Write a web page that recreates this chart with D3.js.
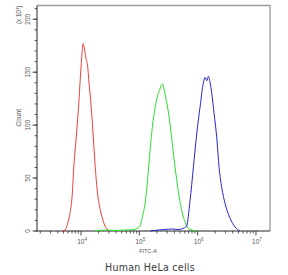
<!DOCTYPE html>
<html><head><meta charset="utf-8">
<script src="https://cdn.jsdelivr.net/npm/d3@7"></script>
<style>body{margin:0;background:#fff}svg{display:block}</style>
</head><body>
<svg id="c" width="288" height="275"></svg>
<script>
// FITC-A values and counts (x10^1)
const redFitc = [4720,5320,5990,6480,7010,7590,8210,8710,9240,9610,10000,10400,10820,11260,11710,12180,13030,13710,14660,15730,16700,17730,18800,20360,22030,23840,25800,27910,30200];
const redCount = [0,0.9,8.5,17,32,64,86,104,124,140,155,168,177,174,169,163,155,140,123,100,78,57,40,26,17,10,4.7,1.9,0];
const greenFitc = [17380,25820,38290,56870,78040,91380,102800,115700,125300,135600,152700,171900,186000,201300,222000,235400,249900,265300,281400,298600,336200,378600,426100,479700,540000,608100,684600,801400,977000];
const greenCount = [0,0.9,0.5,0.9,1.4,2.4,4.7,16,26,43,76,104,116,126,133,137,139,134,127,120,101,76,53,33,18,8.5,2.8,0.9,0];
const blueFitc = [152700,209400,275900,363800,461000,562000,645600,741400,844000,965300,1099000,1253000,1340000,1433000,1527000,1633000,1746000,1911000,2127000,2330000,2590000,2949000,3595000,4379000,5334000];
const blueCount = [0,0.9,1.4,1.9,1.4,2.4,4.7,29,60,92,117,140,145,142,146,140,130,111,88,60,41,26,12,3.8,0];
const yTicks = [0,50,100,150,200];
const xTicks = [1e4,1e5,1e6,1e7];
const xExps = ["4","5","6","7"];
const title = "Human HeLa cells";
const xTitle = "FITC-A";
const yTitle = "Count";
const yUnit = "(x 10";

const svg = d3.select("#c");
const L = 37, R = 270, T = 5.5, B = 231;
const x = d3.scaleLog().domain([1758, 17400000]).range([L, R]);
const y = d3.scaleLinear().domain([0, 213]).range([B, T]);
const FF = "Liberation Sans, Arial, sans-serif";

// frame top/right
svg.append("path").attr("d", `M${L},${T}H${R}V${B}`).attr("fill","none").attr("stroke","#9a9a9a").attr("stroke-width",1.3);

// minor x ticks
const minorX = [];
for (let e = 3; e <= 7; e++) for (let m = 2; m <= 9; m++) { const v = m * Math.pow(10, e); if (v > x.domain()[0] && v < x.domain()[1]) minorX.push(v); }
const gx = svg.append("g").attr("transform", `translate(0,${B})`);
gx.selectAll("line.mn").data(minorX).join("line").attr("x1", d => x(d)).attr("x2", d => x(d)).attr("y1", 0).attr("y2", 2.5).attr("stroke", "#333").attr("stroke-width", 0.8);
gx.selectAll("line.mj").data(xTicks).join("line").attr("x1", d => x(d)).attr("x2", d => x(d)).attr("y1", 0).attr("y2", 4.5).attr("stroke", "#333").attr("stroke-width", 0.9);
gx.append("line").attr("x1", L).attr("x2", R).attr("stroke", "#222").attr("stroke-width", 1);
const xl = gx.selectAll("text.xl").data(xTicks).join("text").attr("x", d => x(d) + 1).attr("y", 12.5).attr("text-anchor", "middle").attr("font-family", FF).attr("font-size", 6.5).attr("fill", "#555");
xl.append("tspan").text("10");
xl.append("tspan").attr("dy", -3).attr("font-size", 4.5).text((d, i) => xExps[i]);

// y ticks
const minorY = d3.range(0, 211, 10);
const gy = svg.append("g").attr("transform", `translate(${L},0)`);
gy.selectAll("line.mn").data(minorY).join("line").attr("x1", -2.5).attr("x2", 0).attr("y1", d => y(d)).attr("y2", d => y(d)).attr("stroke", "#333").attr("stroke-width", 0.8);
gy.selectAll("line.mj").data(yTicks).join("line").attr("x1", -4.5).attr("x2", 0).attr("y1", d => y(d)).attr("y2", d => y(d)).attr("stroke", "#333").attr("stroke-width", 0.9);
gy.append("line").attr("y1", T).attr("y2", B).attr("stroke", "#222").attr("stroke-width", 1);
gy.selectAll("text.yl").data(yTicks).join("text").attr("transform", d => `translate(-7.5,${y(d)}) rotate(-90)`).attr("text-anchor", "middle").attr("font-family", FF).attr("font-size", 6.5).attr("fill", "#555").text(d => d);

// axis titles
svg.append("text").attr("transform", `translate(21,${y(107)}) rotate(-90)`).attr("text-anchor", "middle").attr("font-family", FF).attr("font-size", 6.5).attr("fill", "#555").text(yTitle);
const yu = svg.append("text").attr("transform", `translate(21,24) rotate(-90)`).attr("text-anchor", "start").attr("font-family", FF).attr("font-size", 6.3).attr("fill", "#555");
yu.append("tspan").text(yUnit);
yu.append("tspan").attr("dy", -2.5).attr("font-size", 4.2).text("1");
yu.append("tspan").attr("dy", 2.5).text(")");
svg.append("text").attr("x", 148).attr("y", 253).attr("text-anchor", "middle").attr("font-family", FF).attr("font-size", 5.5).attr("fill", "#555").text(xTitle);
svg.append("text").attr("x", 150).attr("y", 271).attr("text-anchor", "middle").attr("font-family", "DejaVu Sans, sans-serif").attr("font-stretch", "condensed").attr("font-size", 10.5).attr("letter-spacing", 0.3).attr("fill", "#3a3a3a").text(title);

// curves
const line = d3.line().x(d => x(d[0])).y(d => y(d[1])).curve(d3.curveMonotoneX);
const series = [
  {f: redFitc, c: redCount, col: "#e8403f"},
  {f: greenFitc, c: greenCount, col: "#2edc2e"},
  {f: blueFitc, c: blueCount, col: "#2626c8"}
];
series.forEach(s => {
  svg.append("path").datum(d3.zip(s.f, s.c)).attr("d", line).attr("fill", "none").attr("stroke", s.col).attr("stroke-width", 1);
});
</script>
</body></html>
